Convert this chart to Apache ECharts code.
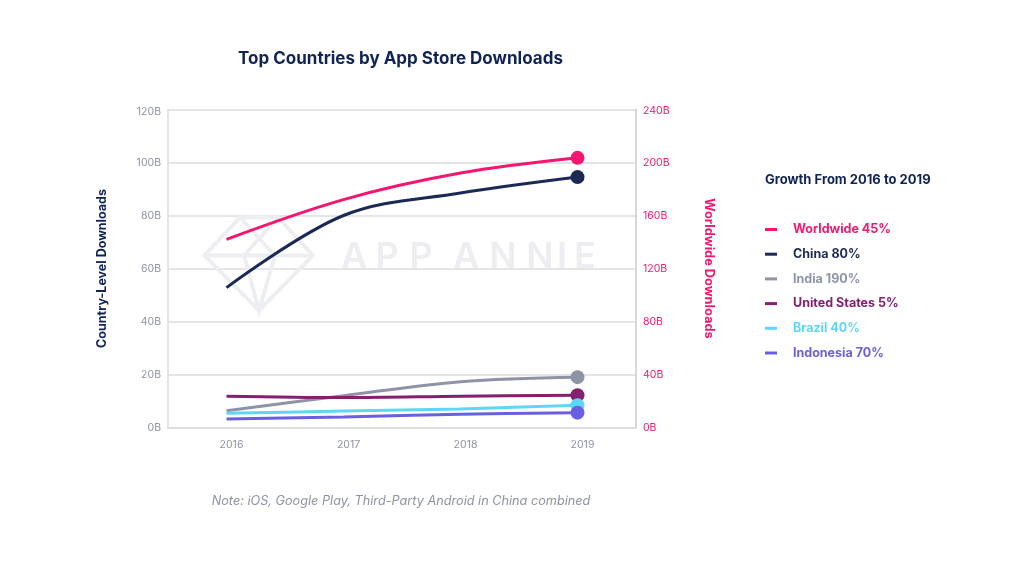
<!DOCTYPE html>
<html><head><meta charset="utf-8">
<style>html,body{margin:0;padding:0;background:#fff}#c{width:1024px;height:576px}</style>
<script src="https://cdn.jsdelivr.net/npm/echarts@6/dist/echarts.min.js"></script>
</head><body><div id="c"></div>
<script>
const years = ['2016','2017','2018','2019'];
const worldwide = [142, 172, 192, 203.5];
const china = [52.8, 80, 88.5, 94.5];
const india = [6.3, 12, 17.3, 19];
const unitedStates = [11.8, 11.3, 11.8, 12.2];
const brazil = [5.4, 6.2, 7, 8.4];
const indonesia = [3.2, 4, 5, 5.6];
const names = ['Worldwide','China','India','United States','Brazil','Indonesia'];
const growth = ['45%','80%','190%','5%','40%','70%'];
const colors = ['#f5166f','#1b2a55','#8e94a8','#85206f','#5fd6f7','#6a5fe0'];
const values = [worldwide, china, india, unitedStates, brazil, indonesia];
const FONT = 'Inter, "Open Sans", sans-serif';
const wm = '#eceef2';
const wmLetters = [['A',354],['P',387],['P',421],['A',466],['N',503],['N',540],['I',562],['E',585]];
const chart = echarts.init(document.getElementById('c'), null, {renderer:'canvas'});
const wmStroke = {fill:'none',stroke:wm,lineWidth:4};
chart.setOption({
  animation:false,
  textStyle:{fontFamily:FONT},
  title:[
    {text:'Top Countries by App Store Downloads',left:395.5,top:45,textAlign:'center',
     textStyle:{fontFamily:FONT,fontSize:17,fontWeight:'bold',color:'#0f2357'}},
    {text:'Note: iOS, Google Play, Third-Party Android in China combined',left:396,top:490,textAlign:'center',
     textStyle:{fontFamily:FONT,fontSize:12.7,fontWeight:'normal',fontStyle:'italic',color:'#8e92a3'}},
    {text:'Growth From 2016 to 2019',left:760,top:169,
     textStyle:{fontFamily:FONT,fontSize:13,fontWeight:'bold',color:'#0f2357'}}
  ],
  legend:{
    orient:'vertical',left:760,top:217,itemWidth:12,itemHeight:3,itemGap:9.7,icon:'rect',
    data:names,selectedMode:false,
    formatter:n=>n+' '+growth[names.indexOf(n)],
    textStyle:{color:'inherit',fontFamily:FONT,fontSize:12.5,fontWeight:'bold',lineHeight:15,padding:[0,0,0,11]}
  },
  grid:{left:168,right:388,top:109.5,bottom:148.5},
  xAxis:{type:'category',data:years,boundaryGap:true,
    axisLine:{lineStyle:{color:'#dcdce0',width:2}},axisTick:{show:false},
    axisLabel:{color:'#8e92a3',fontSize:10.5,margin:12,padding:[0,0,0,10]}},
  yAxis:[
    {type:'value',min:0,max:120,interval:20,position:'left',
     name:'Country-Level Downloads',nameLocation:'middle',nameRotate:90,nameGap:59,
     nameTextStyle:{color:'#0f2357',fontFamily:FONT,fontSize:12.5,fontWeight:'bold'},
     axisLine:{show:true,lineStyle:{color:'#dcdce0',width:1.5}},axisTick:{show:false},
     axisLabel:{color:'#8e92a3',fontSize:10.5,margin:7,
       formatter:v=>v===120?'{t|120B}':v+'B',
       rich:{t:{color:'#8e92a3',fontSize:10.5,padding:[5,0,0,0]}}},
     splitLine:{show:true,lineStyle:{color:'#dcdce0',width:1.5}}},
    {type:'value',min:0,max:240,interval:40,position:'right',
     name:'Worldwide Downloads',nameLocation:'middle',nameRotate:-90,nameGap:66,
     nameTextStyle:{color:'#f5166f',fontFamily:FONT,fontSize:12.8,fontWeight:'bold'},
     axisLine:{show:true,lineStyle:{color:'#c9c9d2',width:1.5}},axisTick:{show:false},
     axisLabel:{color:'#f5166f',fontSize:10.5,margin:7,
       formatter:v=>v===240?'{t|240B}':v+'B',
       rich:{t:{color:'#f5166f',fontSize:10.5,padding:[3,0,0,0]}}},
     splitLine:{show:false}}
  ],
  graphic:[
    {type:'polygon',z:1,shape:{points:[[240,217.5],[278,217.5],[313,255.5],[259,310.5],[204.5,255.5]]},style:wmStroke},
    {type:'polyline',z:1,shape:{points:[[204.5,255.5],[313,255.5]]},style:wmStroke},
    {type:'polyline',z:1,shape:{points:[[240,217.5],[275,255.5],[259,310.5],[244,255.5],[278,217.5]]},style:wmStroke}
  ].concat(wmLetters.map(([t,x])=>({type:'text',z:1,style:{x:x,y:257.5,text:t,fill:wm,
    font:'600 36px '+FONT,textAlign:'center',textVerticalAlign:'middle'}}))),
  series:names.map((n,i)=>({
    name:n,type:'line',data:values[i],yAxisIndex:i===0?1:0,smooth:0.35,z:3+i,
    showSymbol:true,showAllSymbol:true,symbol:'circle',
    symbolSize:(v,p)=>p.dataIndex===3?14:0,
    lineStyle:{color:colors[i],width:3},
    itemStyle:{color:colors[i]},
    emphasis:{disabled:true}
  }))
});
</script></body></html>
